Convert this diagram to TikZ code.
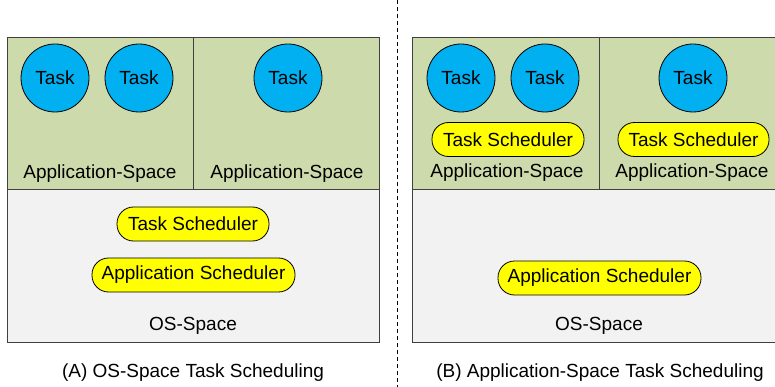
\documentclass[tikz,border=0pt]{standalone}
\usepackage{fontspec}
\setmainfont{Liberation Sans}
\definecolor{appgreen}{RGB}{205,219,172}
\definecolor{osgray}{RGB}{242,242,242}
\definecolor{taskblue}{RGB}{0,176,240}
\definecolor{schedyellow}{RGB}{255,255,0}
\definecolor{edgegray}{RGB}{64,64,64}
\begin{document}
\begin{tikzpicture}[x=1pt,y=-1pt,
  every node/.style={font=\fontsize{19}{22}\selectfont},
  appbox/.style={fill=appgreen,draw=edgegray,line width=1pt},
  osbox/.style={fill=osgray,draw=edgegray,line width=1pt},
  task/.style={circle,fill=taskblue,draw=black,line width=0.8pt,minimum size=68pt,inner sep=0pt},
  sched/.style={rectangle,rounded corners=16.5pt,fill=schedyellow,draw=black,line width=0.8pt,minimum height=34pt,inner sep=0pt},
  lbl/.style={inner sep=0pt}]
\useasboundingbox (0,0) rectangle (775,387);

% separator between the two variants
\draw[line width=0.8pt,dash pattern=on 4pt off 3pt] (397,0) -- (397,387);

% ---------- (A) OS-space task scheduling ----------
\draw[osbox] (7.5,190) rectangle (379,342);
\draw[appbox] (7.5,37.5) rectangle (193,190);
\draw[appbox] (193,37.5) rectangle (379,190);

\node[task] (a1) at (55,78) {Task};
\node[task] (a2) at (139,78) {Task};
\node[task] (a3) at (288,78) {Task};
\node[lbl] (aapp1) at (100,174) {Application-Space};
\node[lbl] (aapp2) at (287,174) {Application-Space};
\node[sched,minimum width=152pt] (ats) at (193,224) {Task Scheduler};
\node[sched,minimum width=203pt] (aas) at (193.5,275) {Application Scheduler};
\node[lbl] (aos) at (193,326) {OS-Space};
\node[lbl] (acap) at (193,373) {(A) OS-Space Task Scheduling};

% ---------- (B) application-space task scheduling ----------
\begin{scope}
\clip (400,0) rectangle (775,387);
\draw[osbox] (412.5,190) rectangle (785,342);
\draw[appbox] (412.5,37.5) rectangle (599,190);
\draw[appbox] (599,37.5) rectangle (785,190);
\end{scope}

\node[task] (b1) at (461,78) {Task};
\node[task] (b2) at (545,78) {Task};
\node[task] (b3) at (693,78) {Task};
\node[sched,minimum width=152pt] (bts1) at (508,139.5) {Task Scheduler};
\node[sched,minimum width=151pt] (bts2) at (693.5,139.5) {Task Scheduler};
\node[lbl] (bapp1) at (507,173) {Application-Space};
\node[lbl] (bapp2) at (692,173) {Application-Space};
\node[sched,minimum width=203pt] (bas) at (599.5,278) {Application Scheduler};
\node[lbl] (bos) at (599,326) {OS-Space};
\node[lbl] (bcap) at (600,373) {(B) Application-Space Task Scheduling};
\end{tikzpicture}
\end{document}
